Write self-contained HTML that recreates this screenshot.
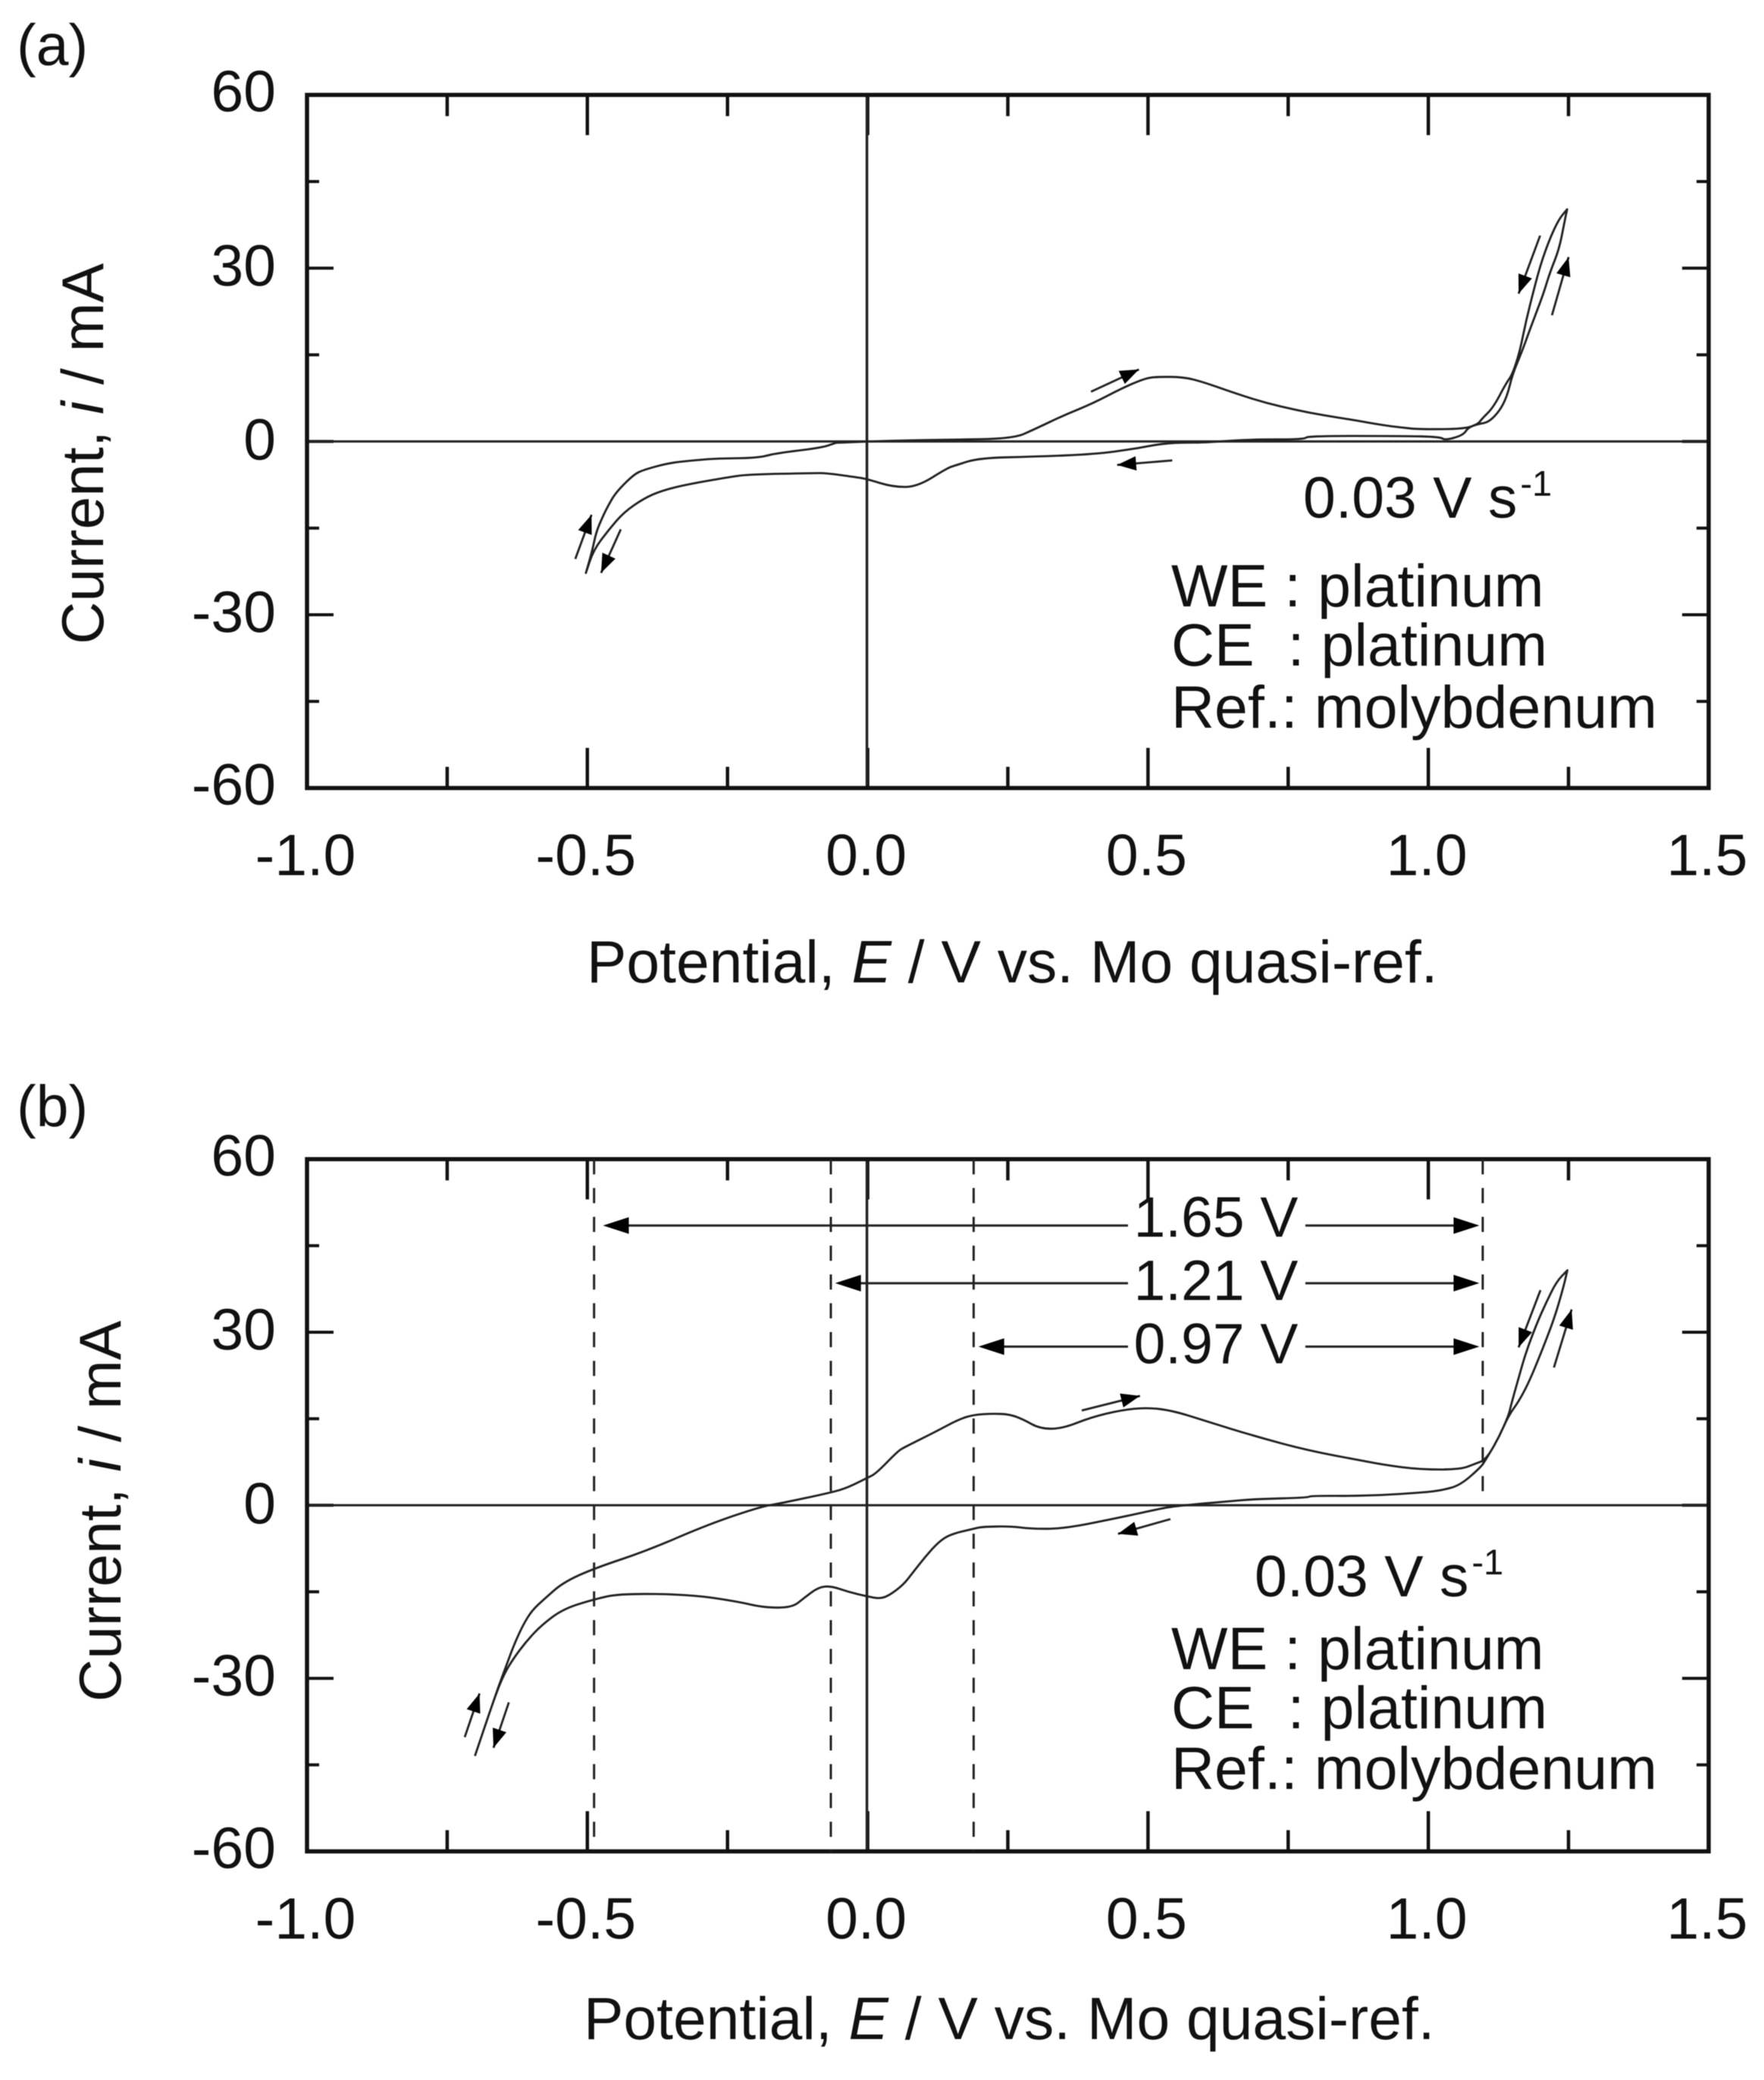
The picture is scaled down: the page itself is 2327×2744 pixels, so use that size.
<!DOCTYPE html>
<html>
<head>
<meta charset="utf-8">
<title>Cyclic voltammograms</title>
<style>
html,body{margin:0;padding:0;background:#fff;}
svg{display:block;filter:blur(0.6px);}
text{font-family:"Liberation Sans",sans-serif;font-size:77px;fill:#111;white-space:pre;}
.title{font-size:78.6px;}
.ytitle{font-size:78px;}
.note{font-size:79px;}
.win{font-size:75px;}
.sup{font-size:47px;}
</style>
</head>
<body>
<svg id="chart" width="2327" height="2744" viewBox="0 0 2327 2744" xmlns="http://www.w3.org/2000/svg">
<rect width="2327" height="2744" fill="#fff"/>
<g id="panel-a"></g>
<g id="panel-b"></g>

<text x="22" y="86">(a)</text>
<text x="22" y="1486">(b)</text>

<text class="title" x="774" y="1296">Potential, <tspan font-style="italic">E</tspan> / V vs. Mo quasi-ref.</text>
<text class="title" x="770" y="2690">Potential, <tspan font-style="italic">E</tspan> / V vs. Mo quasi-ref.</text>
<text class="ytitle" transform="translate(136,850) rotate(-90)">Current, <tspan font-style="italic">i</tspan> / mA</text>
<text class="ytitle" transform="translate(159,2245) rotate(-90)">Current, <tspan font-style="italic">i</tspan> / mA</text>

<text x="1719" y="683">0.03 V s<tspan class="sup" dx="4" dy="-29">-1</tspan></text>
<text class="note" x="1545" y="800">WE : platinum</text>
<text class="note" x="1545" y="878">CE  : platinum</text>
<text class="note" x="1545" y="960">Ref.: molybdenum</text>

<text x="1655" y="2106">0.03 V s<tspan class="sup" dx="4" dy="-29">-1</tspan></text>
<text class="note" x="1545" y="2202">WE : platinum</text>
<text class="note" x="1545" y="2280">CE  : platinum</text>
<text class="note" x="1545" y="2360">Ref.: molybdenum</text>
</svg>

<script>
// Axis tick values and labels
const xMajorTicks = [-1.0, -0.5, 0.0, 0.5, 1.0, 1.5];
const xMajorLabels = ['-1.0', '-0.5', '0.0', '0.5', '1.0', '1.5'];
const xMinorTicks = [-0.75, -0.25, 0.25, 0.75, 1.25];
const yMajorTicks = [60, 30, 0, -30, -60];
const yMajorLabels = ['60', '30', '0', '-30', '-60'];
const yMinorTicks = [45, 15, -15, -45];

// Panel (a) voltammogram: potential / V
const curveAE = [-0.056,0,0.072,0.142,0.26,0.297,0.349,0.401,0.453,0.494,0.515,0.564,0.598,0.66,0.7115,0.763,0.815,0.867,0.918,0.9535,0.985,1.066,1.089,1.107,1.127,1.1406,1.15,1.1677,1.179,1.1926,1.206,1.217,1.233,1.242,1.2475,1.233,1.217,1.2015,1.188,1.1745,1.163,1.15,1.1385,1.116,1.0957,1.089,1.071,1.062,1.03,1.021,0.9535,0.783,0.78,0.68,0.6,0.556,0.52,0.479,0.406,0.2975,0.199,0.1557,0.142,0.088,0.045,-0.002,-0.0246,-0.074,-0.097,-0.212,-0.25,-0.322,-0.367,-0.399,-0.435,-0.462,-0.489,-0.5026,-0.491,-0.4845,-0.473,-0.462,-0.4485,-0.417,-0.399,-0.354,-0.313,-0.268,-0.196,-0.1645,-0.083,-0.056];
// Panel (a) voltammogram: current / mA
const curveAI = [-0.22,0,0.2,0.3,0.5,2.1,4.5,6.56,9.2,10.9,11.2,11.15,10.3,8.2,6.64,5.46,4.5,3.71,2.83,2.4,2.1,2.18,3.06,3.28,5.25,7.87,11.6,15.75,18.8,22.3,25.8,29.3,33.2,37.6,40.2,38.5,35.2,31.05,26.2,21,15.5,11.6,10.05,5.9,3.94,3.06,2.4,1.09,0.2,0.79,0.96,0.96,0.35,0.35,-0.2,-0.2,-0.45,-1.23,-2.2,-2.63,-2.85,-4.16,-4.6,-7.87,-7.87,-6.48,-6.13,-5.47,-5.47,-5.7,-6.2,-7.44,-8.5,-9.84,-12.26,-15.3,-18.8,-22.76,-18.8,-15.75,-13.1,-10.94,-8.75,-5.7,-4.9,-3.72,-3.28,-2.94,-2.85,-2.06,-1.1,-0.22];

// Panel (b) voltammogram: potential / V
const curveBE = [-0.7005,-0.6646,-0.648,-0.6314,-0.615,-0.5985,-0.5763,-0.543,-0.488,-0.394,-0.284,-0.19,-0.1567,-0.0657,-0.0353,0,0.0147,0.054,0.066,0.12,0.1627,0.189,0.223,0.253,0.277,0.3075,0.3467,0.398,0.4525,0.498,0.543,0.603,0.688,0.7846,0.8857,0.922,0.985,1.057,1.0843,1.1024,1.125,1.143,1.161,1.179,1.2015,1.224,1.24,1.248,1.2285,1.2106,1.1926,1.174,1.161,1.1474,1.143,1.125,1.1024,1.0933,1.057,1.0257,0.9897,0.8857,0.79,0.7846,0.694,0.64,0.5885,0.543,0.519,0.4525,0.35,0.2896,0.256,0.205,0.189,0.1476,0.1265,0.1023,0.081,0.0637,0.0364,0.0199,-0.002,-0.0353,-0.0657,-0.0878,-0.1127,-0.1347,-0.1843,-0.234,-0.317,-0.441,-0.488,-0.543,-0.582,-0.6094,-0.6314,-0.648,-0.6646,-0.7005];
// Panel (b) voltammogram: current / mA
const curveBI = [-43.46,-33.07,-28.7,-24.3,-20.8,-18.2,-16.2,-13.36,-10.95,-7.9,-3.3,-0.22,0.3,2.19,3.06,4.8,5.48,9.4,10.08,12.7,14.9,15.7,15.9,15.77,14.9,13.27,13.27,15.24,16.5,16.95,16.43,14.6,12.05,9.5,7.66,7,6.2,6.2,7.23,7.88,11.6,15.55,17.96,21.25,26.5,32.2,37.45,40.74,38.76,35.26,31.3,26.5,22.1,17.3,15.55,11.6,7.88,6.57,3.5,2.63,2.19,1.6,1.67,1.31,1.09,0.66,0.22,-0.22,-0.66,-2.06,-4.07,-4.07,-3.64,-3.72,-4.07,-5.03,-6.35,-8.97,-11.6,-13.8,-15.77,-16.2,-15.77,-15,-14,-14.2,-16,-17.74,-17.74,-16.65,-15.47,-15.3,-16.3,-17.96,-20.8,-23.65,-26.5,-29.13,-33.07,-43.46];

// Sweep-direction arrows, tail E, tail i, tip E, tip i
const arrowsAStartE = [-0.5215,-0.4404,0.3983,0.5433,1.1994,1.2205];
const arrowsAStartI = [-20.34,-15.22,8.61,-3.28,35.64,21.86];
const arrowsAEndE = [-0.4926,-0.4755,0.4838,0.445,1.161,1.2502];
const arrowsAEndI = [-12.69,-22.76,12.47,-4.07,25.59,31.93];
const arrowsBStartE = [-0.7187,-0.64,0.3818,0.54,1.2,1.224];
const arrowsBStartI = [-40.2,-34.17,16.43,-2.4,37.3,23.88];
const arrowsBEndE = [-0.6923,-0.6674,0.4857,0.4465,1.161,1.2556];
const arrowsBEndI = [-32.63,-42.05,18.96,-4.95,27.37,33.94];

// Panel (b) window annotations
const dashedE = [-0.488,-0.0657,0.189,1.097];
const dashedEndI = [-60,-60,-60,0];
const windowLabels = ['1.65 V','1.21 V','0.97 V'];
const windowLeftE = [-0.472,-0.058,0.1976];
const windowRightE = [1.091,1.091,1.091];
const windowI = [48.5,38.5,27.5];
const windowLabelI = [50.0,39.0,28.0];

const NS = 'http://www.w3.org/2000/svg';
const X_AT_MINUS1 = 405, X_AT_1P5 = 2254;
function xScale(v){ return X_AT_MINUS1 + (v + 1) * (X_AT_1P5 - X_AT_MINUS1) / 2.5; }
function makeYScale(y0, k){ return function(v){ return y0 - v * k; }; }

function mk(tag, parent, attrs){
  const el = document.createElementNS(NS, tag);
  for (const key in attrs) el.setAttribute(key, attrs[key]);
  parent.appendChild(el);
  return el;
}

function drawFrame(g, yS){
  const top = yS(60), bot = yS(-60), left = xScale(-1), right = xScale(1.5);
  xMajorTicks.forEach(function(v, i){
    const x = xScale(v);
    if (i > 0 && i < xMajorTicks.length - 1) {
      const t1 = mk('line', g, {x1:x, x2:x, y1:top, y2:top + 53, stroke:'#111', 'stroke-width':4.5});
      
      
      const t2 = mk('line', g, {x1:x, x2:x, y1:bot, y2:bot - 53, stroke:'#111', 'stroke-width':4.5});
      
      
    }
    const label = mk('text', g, {x:x - 2, y:bot + 115, 'text-anchor':'middle'});
    label.textContent = xMajorLabels[i];
    
    
  });
  xMinorTicks.forEach(function(v){
    const x = xScale(v);
    const t1 = mk('line', g, {x1:x, x2:x, y1:top, y2:top + 28, stroke:'#111', 'stroke-width':4.5});
    
    
    const t2 = mk('line', g, {x1:x, x2:x, y1:bot, y2:bot - 28, stroke:'#111', 'stroke-width':4.5});
    
    
  });
  yMajorTicks.forEach(function(v, i){
    const y = yS(v);
    if (i > 0 && i < yMajorTicks.length - 1) {
      const t1 = mk('line', g, {x1:left, x2:left + 35, y1:y, y2:y, stroke:'#111', 'stroke-width':4});
      
      
      const t2 = mk('line', g, {x1:right, x2:right - 35, y1:y, y2:y, stroke:'#111', 'stroke-width':4});
      
      
    }
    const label = mk('text', g, {x:364, y:y + 24 - Math.abs(v) / 30, 'text-anchor':'end'});
    label.textContent = yMajorLabels[i];
    
    
  });
  yMinorTicks.forEach(function(v){
    const y = yS(v);
    const t1 = mk('line', g, {x1:left, x2:left + 16, y1:y, y2:y, stroke:'#111', 'stroke-width':4});
    
    
    const t2 = mk('line', g, {x1:right, x2:right - 16, y1:y, y2:y, stroke:'#111', 'stroke-width':4});
    
    
  });
  const zh = mk('line', g, {x1:left, x2:right, y1:yS(0), y2:yS(0), stroke:'#222', 'stroke-width':3});
  
  
  const zv = mk('line', g, {x1:xScale(0) - 1, x2:xScale(0) - 1, y1:top, y2:bot, stroke:'#222', 'stroke-width':3.5});
  
  
  const frame = mk('rect', g, {x:left, y:top, width:right - left, height:bot - top, fill:'none', stroke:'#111', 'stroke-width':5.5});
  
  
}

function drawCurve(g, es, is, yS, name){
  const px = es.map(function(e){ return xScale(e); });
  const py = is.map(function(v){ return yS(v); });
  const hi = Math.max.apply(null, is), lo = Math.min.apply(null, is);
  let d = 'M' + px[0].toFixed(1) + ' ' + py[0].toFixed(1);
  for (let k = 1; k < px.length - 1; k++) {
    const mx = (px[k] + px[k + 1]) / 2, my = (py[k] + py[k + 1]) / 2;
    const vx = px[k].toFixed(1) + ' ' + py[k].toFixed(1);
    if (is[k] === hi || is[k] === lo) {
      d += 'L' + vx + 'L' + mx.toFixed(1) + ' ' + my.toFixed(1);
    } else {
      d += 'Q' + vx + ' ' + mx.toFixed(1) + ' ' + my.toFixed(1);
    }
  }
  d += 'L' + px[px.length - 1].toFixed(1) + ' ' + py[py.length - 1].toFixed(1);
  const line = mk('path', g, {d:d, fill:'none', stroke:'#222', 'stroke-width':2.8, 'stroke-linejoin':'round'});
  
  
}

function drawHead(g, x1, y1, x2, y2, len, half, name){
  const dx = x2 - x1, dy = y2 - y1, d = Math.hypot(dx, dy) || 1;
  const ux = dx / d, uy = dy / d;
  const bx = x2 - ux * len, by = y2 - uy * len;
  const pts = [x2, y2, bx - uy * half, by + ux * half, bx + uy * half, by - ux * half].map(function(n){ return n.toFixed(1); });
  const head = mk('polygon', g, {points:pts[0] + ',' + pts[1] + ' ' + pts[2] + ',' + pts[3] + ' ' + pts[4] + ',' + pts[5], fill:'#000'});
  
  
}

function drawSweepArrows(g, sE, sI, eE, eI, yS){
  sE.forEach(function(v, k){
    const x1 = xScale(v), y1 = yS(sI[k]), x2 = xScale(eE[k]), y2 = yS(eI[k]);
    const shaft = mk('line', g, {x1:x1, y1:y1, x2:x2, y2:y2, stroke:'#222', 'stroke-width':2.8});
    
    
    drawHead(g, x1, y1, x2, y2, 25, 9.5, 'sweep-arrow-head');
  });
}

function drawWindows(g, yS){
  const top = yS(60);
  dashedE.forEach(function(v, k){
    const x = xScale(v);
    const dash = mk('line', g, {x1:x, x2:x, y1:top, y2:yS(dashedEndI[k]), stroke:'#222', 'stroke-width':3, 'stroke-dasharray':'20 18'});
    
    
  });
  windowLabels.forEach(function(txt, k){
    const y = yS(windowI[k]);
    const xl = xScale(windowLeftE[k]), xr = xScale(windowRightE[k]);
    const left = mk('line', g, {x1:xl + 20, x2:1488, y1:y, y2:y, stroke:'#222', 'stroke-width':3});
    
    
    const right = mk('line', g, {x1:1722, x2:xr - 20, y1:y, y2:y, stroke:'#222', 'stroke-width':3});
    
    
    drawHead(g, xl + 40, y, xl, y, 34, 11, 'window-arrow-left-head');
    drawHead(g, xr - 40, y, xr, y, 34, 11, 'window-arrow-right-head');
    const label = mk('text', g, {x:1604, y:yS(windowLabelI[k]) + 26, 'text-anchor':'middle', 'class':'win'});
    label.textContent = txt;
    
    
  });
}

const yA = makeYScale(582.4, 7.62);
const yB = makeYScale(1985.8, 7.61);
const gA = document.getElementById('panel-a');
const gB = document.getElementById('panel-b');

drawFrame(gA, yA);
drawCurve(gA, curveAE, curveAI, yA, 'cv-curve-a');
drawSweepArrows(gA, arrowsAStartE, arrowsAStartI, arrowsAEndE, arrowsAEndI, yA);

drawFrame(gB, yB);
drawWindows(gB, yB);
drawCurve(gB, curveBE, curveBI, yB, 'cv-curve-b');
drawSweepArrows(gB, arrowsBStartE, arrowsBStartI, arrowsBEndE, arrowsBEndI, yB);
</script>
</body>
</html>
